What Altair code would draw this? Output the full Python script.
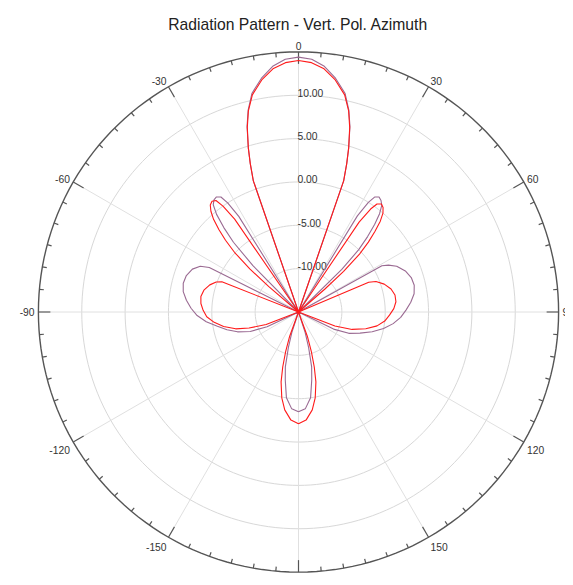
import altair as alt
import pandas as pd

TITLE = "Radiation Pattern - Vert. Pol. Azimuth"

# Trace 1 (mauve): azimuth (deg, clockwise from 0) and gain (dB)
p_angle = [-180, -176, -172, -169, -166.5, -164, -162, -160.5,
           -117, -115, -112, -108, -104, -100, -96, -92, -88, -84, -80, -76, -72, -68, -65, -63.5, -62.5,
           -45.5, -44.5, -43, -41.5, -40, -38.5, -37, -35.5, -34, -33, -32, -31,
           -20, -19, -18, -17, -15.5, -14, -12, -9, -6, -3, 0, 3, 6, 9, 12, 14, 15.5, 17, 18, 19, 20,
           30.5, 31.5, 32.5, 33.5, 35, 36.5, 38, 39.5, 41, 42.5, 44, 45.5, 46.5,
           60, 61, 62.5, 65, 69, 73, 77, 81, 85, 89, 93, 97, 101, 105, 109, 113, 116, 118,
           160.5, 162, 164, 166.5, 169, 172, 176, 180]
p_db = [-3.5, -3.8, -5.0, -7.0, -8.5, -10.8, -12.5, -15,
        -15, -11.0, -9.0, -7.6, -6.5, -5.5, -4.3, -3.3, -2.6, -2.0, -1.5, -1.3, -1.4, -1.8, -2.5, -3.5, -15,
        -15, -7.5, -4.0, -2.0, -0.3, 0.8, 1.2, 1.3, 1.0, 0.0, -2.0, -15,
        -15, 1.0, 3.0, 4.8, 7.2, 9.0, 10.8, 12.3, 13.5, 14.2, 14.4, 14.2, 13.5, 12.3, 10.8, 9.0, 7.2, 4.8, 3.0, 1.0, -15,
        -15, -2.0, 0.0, 0.9, 1.2, 1.0, 0.6, -0.3, -1.6, -3.2, -5.0, -8.0, -15,
        -15, -4.0, -3.3, -2.5, -1.8, -1.4, -1.3, -1.5, -2.0, -2.6, -3.2, -4.0, -5.0, -6.2, -7.5, -8.7, -10.5, -15,
        -15, -12.5, -10.8, -8.5, -7.0, -5.0, -3.8, -3.5]

# Trace 2 (red)
r_angle = [-180, -176, -172, -169, -166, -164, -162, -160, -158,
           -113, -111, -108, -105, -101, -97, -93, -89, -85, -81, -77, -73, -70, -68.5, -67.5,
           -50.5, -49.5, -48.5, -47, -45.5, -44, -42.5, -41, -39.5, -38, -36.5, -35.5, -34.5, -33.5,
           -20, -19, -18, -17, -15.5, -14, -12, -9, -6, -3, 0, 3, 6, 9, 12, 14, 15.5, 17, 18, 19, 20,
           33, 34, 35, 36, 37.5, 39, 40.5, 42, 43.5, 45, 46.5, 48, 49, 50,
           66, 67, 68.5, 72, 76, 80, 84, 88, 92, 96, 100, 104, 108, 111, 113,
           158, 160, 162, 164, 166, 169, 172, 176, 180]
r_db = [-2.1, -2.5, -3.6, -4.9, -6.7, -8.4, -10.2, -12.0, -15,
        -15, -11.0, -9.0, -7.5, -6.2, -5.2, -4.4, -4.0, -3.7, -3.6, -3.8, -4.3, -4.9, -5.5, -15,
        -15, -10.5, -7.5, -4.9, -3.2, -1.8, -0.5, 0.4, 1.0, 1.2, 1.0, 0.0, -2.0, -15,
        -15, 1.0, 3.0, 4.8, 7.1, 8.9, 10.6, 12.1, 13.2, 13.8, 14.0, 13.8, 13.2, 12.1, 10.6, 8.9, 7.1, 4.8, 3.0, 1.0, -15,
        -15, -2.5, -0.5, 0.4, 0.7, 0.5, 0.0, -0.9, -2.2, -3.6, -5.3, -8.0, -11.0, -15,
        -15, -6.2, -5.4, -4.6, -4.0, -3.7, -3.7, -4.0, -4.5, -5.0, -5.8, -7.0, -8.5, -10.5, -15,
        -15, -12.0, -10.2, -8.4, -6.7, -4.9, -3.6, -2.5, -2.1]

series_names = ["Trace 1", "Trace 2"]
series_colors = ["#9a6a92", "#ff1a1a"]

ring_levels = [-10, -5, 0, 5, 10]
ring_labels = ["-10.00", "-5.00", "0.00", "5.00", "10.00"]
angle_ticks = [0, 30, 60, 90, 120, 150, 180, 210, 240, 270, 300, 330]
angle_labels = ["0", "30", "60", "90", "120", "150", "-180", "-150", "-120", "-90", "-60", "-30"]
DB_MIN, DB_MAX = -15, 15

# ---- layout (pixels) ----
W, H = 557, 569
CX, CY = 290.5, 304.0      # centre of the polar plot inside the chart
K = 8.67                   # pixels per dB
SPAN = DB_MAX - DB_MIN     # 30 dB from centre to rim

xscale = alt.Scale(domain=[-CX / K, (W - CX) / K], nice=False, zero=False)
yscale = alt.Scale(domain=[-(H - CY) / K, CY / K], nice=False, zero=False)
X = lambda f="x": alt.X(f"{f}:Q", scale=xscale, axis=None)
Y = lambda f="y": alt.Y(f"{f}:Q", scale=yscale, axis=None)
RAD = "PI/180"
FONT = "Liberation Sans"

# ---- pattern data ----
rows = []
for name, angs, dbs in [(series_names[0], p_angle, p_db), (series_names[1], r_angle, r_db)]:
    for i, (a, d) in enumerate(zip(angs, dbs)):
        rows.append({"series": name, "idx": i, "deg": a, "db": d})
pat = pd.DataFrame(rows)

pattern = alt.Chart(pat).transform_calculate(
    r=f"max(datum.db, {DB_MIN}) - ({DB_MIN})"
).transform_calculate(
    x=f"datum.r*sin(datum.deg*{RAD})", y=f"datum.r*cos(datum.deg*{RAD})"
).mark_line(strokeWidth=1.1, strokeJoin="round").encode(
    x=X(), y=Y(),
    color=alt.Color("series:N", scale=alt.Scale(domain=series_names, range=series_colors), legend=None),
    order=alt.Order("idx:Q"),
)

# ---- grid rings ----
ring_rows = [{"level": lv, "deg": d} for lv in ring_levels for d in range(0, 361, 2)]
rings = alt.Chart(pd.DataFrame(ring_rows)).transform_calculate(
    r=f"datum.level - ({DB_MIN})"
).transform_calculate(
    x=f"datum.r*sin(datum.deg*{RAD})", y=f"datum.r*cos(datum.deg*{RAD})"
).mark_line(color="#d8d8d8", strokeWidth=1).encode(
    x=X(), y=Y(), detail="level:N", order="deg:Q"
)

outer_rows = [{"deg": d} for d in range(0, 361, 2)]
outer = alt.Chart(pd.DataFrame(outer_rows)).transform_calculate(
    x=f"{SPAN}*sin(datum.deg*{RAD})", y=f"{SPAN}*cos(datum.deg*{RAD})"
).mark_line(color="#555555", strokeWidth=1.4).encode(x=X(), y=Y(), order="deg:Q")

# ---- spokes ----
MAJOR = 12 / K
MINOR = 4.5 / K
spokes = alt.Chart(pd.DataFrame({"deg": angle_ticks})).transform_calculate(
    x="0", y="0",
    x2=f"({SPAN}-{MAJOR})*sin(datum.deg*{RAD})", y2=f"({SPAN}-{MAJOR})*cos(datum.deg*{RAD})"
).mark_rule(color="#e0e0e0", strokeWidth=1).encode(x=X(), y=Y(), x2="x2:Q", y2="y2:Q")

# ---- rim ticks ----
tick_rows = [{"deg": d, "major": d % 30 == 0} for d in range(0, 360, 5)]
ticks = alt.Chart(pd.DataFrame(tick_rows)).transform_calculate(
    rin=f"datum.major ? {SPAN}-{MAJOR} : {SPAN}-{MINOR}"
).transform_calculate(
    x=f"datum.rin*sin(datum.deg*{RAD})", y=f"datum.rin*cos(datum.deg*{RAD})",
    x2=f"{SPAN}*sin(datum.deg*{RAD})", y2=f"{SPAN}*cos(datum.deg*{RAD})"
).mark_rule(color="#555555", strokeWidth=1.2).encode(x=X(), y=Y(), x2="x2:Q", y2="y2:Q")

# ---- ring labels ----
ring_text = alt.Chart(pd.DataFrame({"level": ring_levels, "lab": ring_labels})).transform_calculate(
    x="0", y=f"datum.level - ({DB_MIN})"
).mark_text(align="left", baseline="alphabetic", dx=-1, dy=1.5, fontSize=10.3,
            font=FONT, color="#333333").encode(x=X(), y=Y(), text="lab:N")

# ---- angle labels (placed just outside the rim, aligned away from it) ----
angle_text = alt.Chart(pd.DataFrame({"deg": angle_ticks, "lab": angle_labels})).transform_calculate(
    s=f"sin(datum.deg*{RAD})", c=f"cos(datum.deg*{RAD})",
    w="5.7*length(datum.lab) - (indexof(datum.lab, '-') == 0 ? 2.3 : 0)"
).transform_calculate(
    xp="abs(datum.s) > 0.1 ? 264*datum.s + (datum.s > 0 ? 1 : -1)*datum.w/2 : 0",
    yp="266*datum.c - (datum.c < -0.1 ? 5 : 0)"
).transform_calculate(
    x=f"datum.xp/{K}", y=f"datum.yp/{K}"
).mark_text(align="center", baseline="middle", dy=0.5, fontSize=10.3, font=FONT,
            color="#333333").encode(x=X(), y=Y(), text="lab:N")

# ---- title ----
title = alt.Chart(pd.DataFrame({"t": [TITLE]})).mark_text(
    align="center", baseline="alphabetic", fontSize=15.7, font=FONT, color="#222222"
).encode(x=alt.X(datum=-0.1, scale=xscale, axis=None),
         y=alt.Y(datum=(CY - 22) / K, scale=yscale, axis=None),
         text="t:N")

chart = alt.layer(rings, spokes, outer, ticks, ring_text, angle_text, pattern, title).properties(
    width=W, height=H, padding=0, autosize=alt.AutoSizeParams(type="none")
).configure(background="white").configure_view(stroke=None)

chart.save("out.html", embed_options={"renderer": "svg", "actions": False})
